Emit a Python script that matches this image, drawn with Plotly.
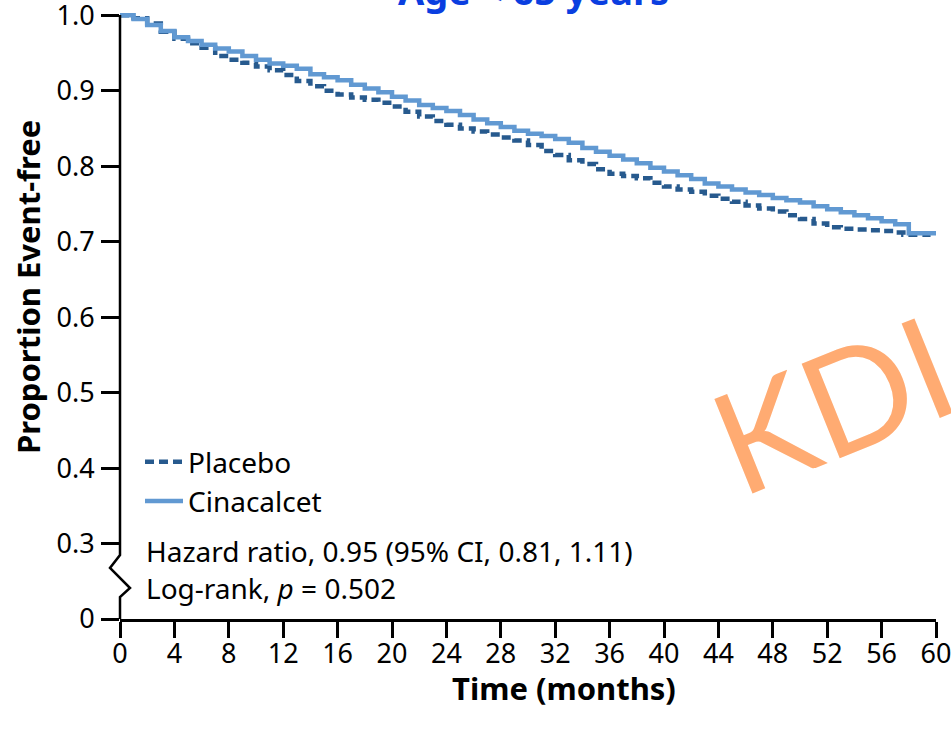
import plotly.graph_objects as go

# ---- data ----
placebo_t = [0, 1, 2, 3, 4, 5, 6, 7, 8, 9, 10, 11, 12, 13, 14, 15, 16, 17, 18, 19, 20,
             21, 22, 23, 24, 25, 26, 27, 28, 29, 30, 31, 32, 33, 34, 35, 36, 37, 38, 39, 40,
             41, 42, 43, 44, 45, 46, 47, 48, 49, 50, 51, 52, 53, 54, 55, 56, 57, 57.6, 59.6]
placebo_s = [1.000, 0.996, 0.989, 0.978, 0.969, 0.963, 0.957, 0.946, 0.941, 0.937, 0.932,
             0.927, 0.921, 0.913, 0.906, 0.900, 0.895, 0.891, 0.888, 0.884, 0.879,
             0.872, 0.866, 0.860, 0.855, 0.850, 0.846, 0.842, 0.838, 0.834, 0.828,
             0.820, 0.815, 0.808, 0.803, 0.796, 0.790, 0.787, 0.784, 0.778, 0.773,
             0.769, 0.766, 0.761, 0.757, 0.753, 0.748, 0.744, 0.740, 0.735, 0.730,
             0.724, 0.719, 0.717, 0.716, 0.715, 0.714, 0.712, 0.709, 0.709]

cina_t = [0, 1, 2, 3, 4, 5, 6, 7, 8, 9, 10, 11, 12, 13, 14, 15, 16, 17, 18, 19, 20,
          21, 22, 23, 24, 25, 26, 27, 28, 29, 30, 31, 32, 33, 34, 35, 36, 37, 38, 39, 40,
          41, 42, 43, 44, 45, 46, 47, 48, 49, 50, 51, 52, 53, 54, 55, 56, 57, 58, 60]
cina_s = [1.000, 0.995, 0.987, 0.979, 0.971, 0.966, 0.961, 0.956, 0.952, 0.946, 0.941,
          0.936, 0.933, 0.929, 0.922, 0.918, 0.914, 0.908, 0.903, 0.898, 0.892,
          0.887, 0.881, 0.877, 0.873, 0.868, 0.862, 0.857, 0.852, 0.847, 0.843,
          0.840, 0.836, 0.831, 0.824, 0.819, 0.814, 0.809, 0.804, 0.798, 0.793,
          0.788, 0.783, 0.777, 0.773, 0.769, 0.765, 0.762, 0.758, 0.755, 0.752,
          0.747, 0.743, 0.739, 0.735, 0.731, 0.727, 0.723, 0.711, 0.711]

x_ticks = list(range(0, 61, 4))
y_tickvals = [0.2, 0.3, 0.4, 0.5, 0.6, 0.7, 0.8, 0.9, 1.0]
y_ticktext = ["0", "0.3", "0.4", "0.5", "0.6", "0.7", "0.8", "0.9", "1.0"]

FONT = "Noto Sans"
W, H = 951, 729
L, R, T, B = 120, 15, 13, 110
PW, PH = W - L - R, H - T - B


def px(p):  # pixel x -> paper
    return (p - L) / PW


def py(q):  # pixel y -> paper
    return (H - B - q) / PH


fig = go.Figure()
fig.add_trace(go.Scatter(x=placebo_t, y=placebo_s, mode="lines", name="Placebo",
                         line=dict(color="#275a8e", width=4.5, dash="9px,5px", shape="hv"),
                         legendgroup="a"))
fig.add_trace(go.Scatter(x=cina_t, y=cina_s, mode="lines", name="Cinacalcet",
                         line=dict(color="#6199d2", width=4.5, shape="hv"),
                         legendgroup="b"))

# y axis drawn with a break
path = (f"M {px(120)},{py(15)} L {px(120)},{py(555)} L {px(110)},{py(568)} "
        f"L {px(130)},{py(588)} L {px(120)},{py(597)} L {px(120)},{py(619)}")
fig.add_shape(type="path", path=path, xref="paper", yref="paper",
              line=dict(color="black", width=2.5))


def ann(text, x, y, size, xanchor="left", yanchor="middle", color="black",
        family=FONT, **kw):
    return dict(text=text, x=px(x), y=py(y), xref="paper", yref="paper",
                xanchor=xanchor, yanchor=yanchor, showarrow=False,
                font=dict(family=family, size=size, color=color), **kw)


annotations = [
    ann("Hazard ratio, 0.95 (95% CI, 0.81, 1.11)", 144, 551, 28),
    ann("Log-rank, <i>p</i> = 0.502", 144, 588, 28),
    ann("<b>Time (months)</b>", 564, 688, 31, xanchor="center"),
    ann("<b>Proportion Event-free</b>", 28, 287, 31, xanchor="center", textangle=-90),
    ann("<b>Age < 65 years</b>", 533, 18, 38, xanchor="center", yanchor="bottom",
        color="#0a3ee0"),
    ann("KDI", 832, 402, 142, xanchor="center", color="#ffab72", textangle=-22,
        family="Lato"),
]

fig.update_layout(
    width=W, height=H,
    margin=dict(l=L, r=R, t=T, b=B, pad=0, autoexpand=False),
    paper_bgcolor="white", plot_bgcolor="white",
    font=dict(family=FONT, size=26, color="black"),
    showlegend=True,
    legend=dict(x=px(140), y=py(437), xanchor="left", yanchor="top",
                bgcolor="rgba(0,0,0,0)", font=dict(family=FONT, size=28),
                tracegroupgap=0, itemwidth=38),
    annotations=annotations,
    xaxis=dict(range=[0, 60], tickvals=x_ticks, showgrid=False, zeroline=False,
               showline=True, linecolor="black", linewidth=2.5,
               ticks="outside", ticklen=16, tickwidth=2.5, tickcolor="black",
               ticklabeloverflow="allow", ticklabelstandoff=-7,
               tickfont=dict(family=FONT, size=27), fixedrange=True),
    yaxis=dict(range=[0.2, 1.003], tickvals=y_tickvals, ticktext=y_ticktext,
               showgrid=False, zeroline=False, showline=False,
               ticks="outside", ticklen=18, tickwidth=2.5, tickcolor="black",
               ticklabeloverflow="allow", ticklabelstandoff=1,
               tickfont=dict(family=FONT, size=27), fixedrange=True),
)

fig.write_html("out.html", config={"displayModeBar": False},
               post_script="document.body.style.margin='0';"
                           "document.body.style.overflow='hidden';")
